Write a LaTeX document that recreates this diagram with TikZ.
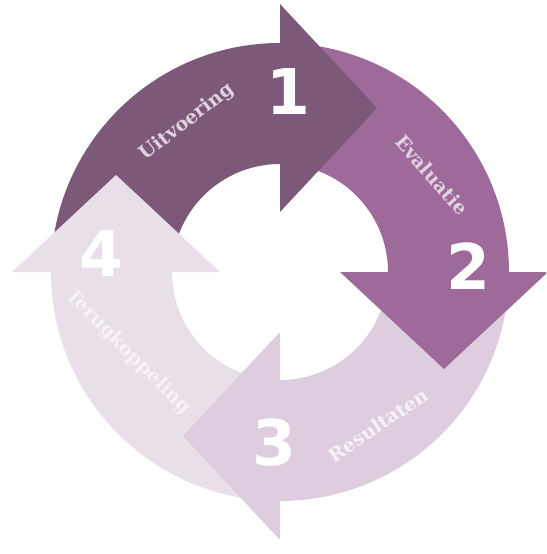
\documentclass[tikz,border=0pt]{standalone}
\usepackage{fontspec}
\setmainfont{DejaVu Serif}
\newfontfamily\digitfont{DejaVu Sans}
\definecolor{cA}{HTML}{7C5979}
\definecolor{cB}{HTML}{9D6A99}
\definecolor{cC}{HTML}{DDCDDE}
\definecolor{cD}{HTML}{E8DFE8}
\definecolor{tA}{HTML}{E2D2E1}
\definecolor{tC}{HTML}{F7F2F7}
\newcommand\ringbody[2]{%
  \fill[#2] (#1:229pt) arc[start angle=#1, end angle=#1-90, radius=229pt]
    -- (#1-90:108pt) arc[start angle=#1-90, end angle=#1, radius=108pt] -- cycle;}
\newcommand\ringhead[2]{%
  \fill[#2] (#1:60pt) -- (#1:268pt) -- (#1-30.6:190.5pt) -- cycle;}
\tikzset{
  lbl/.style={font=\bfseries\fontsize{19}{19}\selectfont, inner sep=0pt},
  num/.style={font=\digitfont\bfseries\fontsize{63}{63}\selectfont, text=white, inner sep=0pt}
}
\begin{document}
\begin{tikzpicture}
\useasboundingbox (-280pt,-282pt) rectangle (266pt,272pt);
\clip (-280pt,-282pt) rectangle (266pt,272pt);
\ringbody{180}{cA}
\ringbody{90}{cB}
\ringbody{0}{cC}
\ringbody{270}{cD}
\ringhead{90}{cA}
\ringhead{0}{cB}
\ringhead{-90}{cC}
\ringhead{180}{cD}
\node[num] (n1) at (8pt,180pt) {1};
\node[num] (n2) at (188pt,6pt) {2};
\node[num] (n3) at (-6pt,-171pt) {3};
\node[num] (n4) at (-179pt,18pt) {4};
\node[lbl, text=tA, rotate=38] (l1) at (-93pt,150pt) {Uitvoering};
\node[lbl, text=tA, rotate=-49] (l2) at (152pt,97pt) {Evaluatie};
\node[lbl, text=tC, rotate=34] (l3) at (98pt,-153pt) {Resultaten};
\node[lbl, text=tC, rotate=-45] (l4) at (-152pt,-80pt) {Terugkoppeling};
\end{tikzpicture}
\end{document}
